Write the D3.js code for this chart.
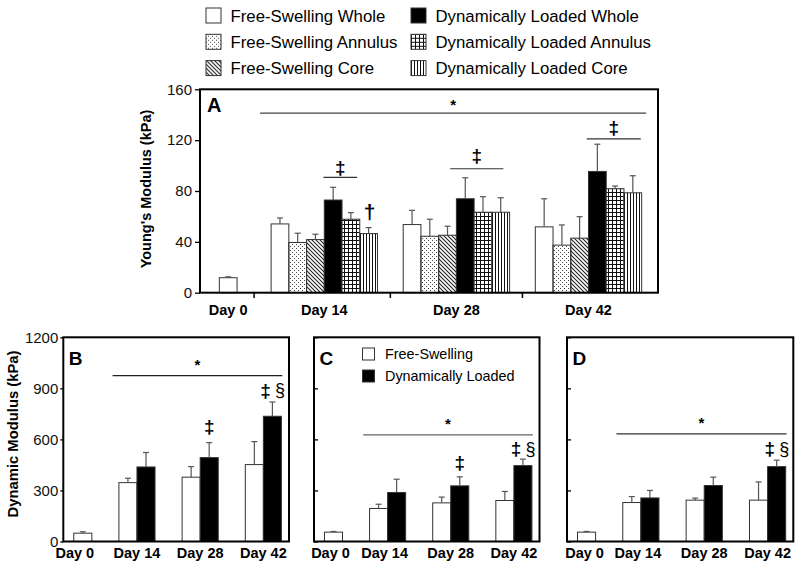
<!DOCTYPE html>
<html>
<head>
<meta charset="utf-8">
<script src="https://cdn.jsdelivr.net/npm/d3@7"></script>
<style>
  body { margin: 0; background: #fff; }
  svg { font-family: "Liberation Sans", Arial, sans-serif; }
</style>
</head>
<body>
<div id="chart"></div>
<script>
// ---- data ----
var days = ["Day 0", "Day 14", "Day 28", "Day 42"];

var youngSeries = ["Free-Swelling Whole", "Free-Swelling Annulus", "Free-Swelling Core",
    "Dynamically Loaded Whole", "Dynamically Loaded Annulus", "Dynamically Loaded Core"];
var youngMeans = [
    [11.8, 54.1, 53.6, 51.8],
    [null, 39.5, 44.4, 37.4],
    [null, 41.8, 45.2, 42.9],
    [null, 72.9, 73.9, 95.4],
    [null, 57.8, 63.3, 81.8],
    [null, 46.5, 63.3, 78.6]
];
var youngSD = [
    [0.7, 4.7, 11.2, 22.1],
    [null, 7.3, 13.4, 15.9],
    [null, 4.2, 7.1, 16.9],
    [null, 10.0, 16.5, 21.4],
    [null, 5.2, 12.2, 2.1],
    [null, 4.7, 11.4, 13.4]
];
var youngTicks = [0, 40, 80, 120, 160];

var dynSeries = ["Free-Swelling", "Dynamically Loaded"];
var dynMeansB = [[49, 346, 378, 452], [null, 438, 493, 736]];
var dynSDB = [[8, 26, 62, 135], [null, 85, 88, 84]];
var dynMeansC = [[55, 194, 227, 241], [null, 288, 327, 446]];
var dynSDC = [[4, 25, 34, 53], [null, 78, 53, 38]];
var dynMeansD = [[55, 229, 243, 243], [null, 256, 329, 440]];
var dynSDD = [[4, 35, 12, 107], [null, 44, 49, 38]];
var dynTicks = [0, 300, 600, 900, 1200];

// significance marks: bar offsets inside a day group, value for the line / symbol
var sigA = [
    { day: "Day 14", from: 2.95, to: 4.85, line: 90.7, mark: "\u2021", at: 99 },
    { day: "Day 28", from: 2.65, to: 5.65, line: 97.5, mark: "\u2021", at: 108 },
    { day: "Day 42", from: 2.9, to: 5.95, line: 121, mark: "\u2021", at: 130 }
];
var starA = 141.3;
var starB = 975, starC = 627, starD = 632;

// ---- layout ----
var width = 800, height = 568;
var svg = d3.select("#chart").append("svg")
    .attr("width", width)
    .attr("height", height);

var defs = svg.append("defs");

var dots = defs.append("pattern").attr("id", "dots")
    .attr("patternUnits", "userSpaceOnUse").attr("width", 4).attr("height", 4);
dots.append("rect").attr("x", 0).attr("y", 0).attr("width", 1).attr("height", 1).attr("fill", "#444");
dots.append("rect").attr("x", 2).attr("y", 2).attr("width", 1).attr("height", 1).attr("fill", "#444");

var hatch = defs.append("pattern").attr("id", "hatch")
    .attr("patternUnits", "userSpaceOnUse").attr("width", 4).attr("height", 4);
hatch.append("path").attr("d", "M-1,-1L5,5M-1,3L1,5M3,-1L5,1")
    .attr("stroke", "#222").attr("stroke-width", 1.1);

var grid = defs.append("pattern").attr("id", "grid")
    .attr("patternUnits", "userSpaceOnUse").attr("width", 4).attr("height", 4);
grid.append("rect").attr("width", 4).attr("height", 4).attr("fill", "#fff");
grid.append("path").attr("d", "M0.5,0V4M0,0.5H4")
    .attr("stroke", "#111").attr("stroke-width", 1);

var vert = defs.append("pattern").attr("id", "vert")
    .attr("patternUnits", "userSpaceOnUse").attr("width", 3).attr("height", 3);
vert.append("rect").attr("width", 3).attr("height", 3).attr("fill", "#fff");
vert.append("path").attr("d", "M0.5,0V3").attr("stroke", "#111").attr("stroke-width", 1);

var youngFills = ["#fff", "url(#dots)", "url(#hatch)", "#000", "url(#grid)", "url(#vert)"];
var dynFills = ["#fff", "#000"];

// slot layout: each group is a number of bar widths, separated by gaps (in bar widths)
function slotLayout(counts, leftPad, gaps, rightPad) {
    var starts = [], pos = leftPad;
    counts.forEach(function(c, i) {
        starts.push(pos);
        pos += c + (i < gaps.length ? gaps[i] : rightPad);
    });
    return { starts: starts, total: pos };
}

function drawPanel(p) {
    var g = svg.append("g");
    var lay = slotLayout(p.counts, p.leftPad, p.gaps, p.rightPad);
    var x = d3.scaleLinear().domain([0, lay.total]).range([p.x0, p.x1]);
    var y = d3.scaleLinear().domain([0, p.max]).range([p.y1, p.y0]);
    var dayIndex = function(d) { return days.indexOf(d); };

    var bars = [];
    p.means.forEach(function(row, s) {
        row.forEach(function(v, di) {
            if (v == null) return;
            var slot = lay.starts[di] + (di === 0 ? 0 : s);
            bars.push({ s: s, slot: slot, v: v, sd: p.sds[s][di] });
        });
    });

    g.selectAll(".bar").data(bars).enter().append("rect")
        .attr("class", "bar")
        .attr("x", function(d) { return x(d.slot); })
        .attr("width", function(d) { return x(d.slot + 1) - x(d.slot); })
        .attr("y", function(d) { return y(d.v); })
        .attr("height", function(d) { return y(0) - y(d.v); })
        .attr("fill", function(d) { return p.fills[d.s]; })
        .attr("stroke", "#333")
        .attr("stroke-width", 1);

    var err = g.selectAll(".err").data(bars).enter().append("g").attr("class", "err")
        .attr("stroke", "#555").attr("stroke-width", 1.2);
    err.append("line")
        .attr("x1", function(d) { return x(d.slot + 0.5); })
        .attr("x2", function(d) { return x(d.slot + 0.5); })
        .attr("y1", function(d) { return y(d.v); })
        .attr("y2", function(d) { return y(d.v + d.sd); });
    err.append("line")
        .attr("x1", function(d) { return x(d.slot + 0.5) - 3; })
        .attr("x2", function(d) { return x(d.slot + 0.5) + 3; })
        .attr("y1", function(d) { return y(d.v + d.sd); })
        .attr("y2", function(d) { return y(d.v + d.sd); });

    // y axis
    var yAxis = d3.axisLeft(y).tickValues(p.ticks).tickSize(p.tickSize).tickPadding(p.tickPad)
        .tickFormat(p.labels ? d3.format("d") : "");
    var ya = g.append("g").attr("transform", "translate(" + p.x0 + ",0)").call(yAxis);
    ya.select(".domain").remove();
    ya.selectAll("line").attr("stroke", "#000").attr("stroke-width", 1.3);
    ya.selectAll("text").attr("font-size", "15px").attr("fill", "#111")
        .attr("font-family", "'Liberation Sans', Arial, sans-serif");

    // x labels
    g.selectAll(".xl").data(days).enter().append("text")
        .attr("class", "xl")
        .attr("x", function(d) {
            var i = dayIndex(d);
            return x(lay.starts[i] + p.counts[i] / 2) + (p.labelShift ? p.labelShift[i] : 0);
        })
        .attr("y", p.labelY)
        .attr("text-anchor", "middle")
        .attr("font-weight", "bold")
        .attr("font-size", "14.5px")
        .text(function(d) { return d; });

    // frame
    g.append("rect")
        .attr("x", p.x0).attr("y", p.y0)
        .attr("width", p.x1 - p.x0).attr("height", p.y1 - p.y0)
        .attr("fill", "none").attr("stroke", "#000").attr("stroke-width", 2);

    g.append("text")
        .attr("x", p.x0 + p.letterDx).attr("y", p.y0 + p.letterDy)
        .attr("font-weight", "bold").attr("font-size", p.letterSize)
        .text(p.letter);

    return { g: g, x: x, y: y, lay: lay };
}

function sigLine(g, x0, x1, yy, color) {
    g.append("line").attr("x1", x0).attr("x2", x1).attr("y1", yy).attr("y2", yy)
        .attr("stroke", color || "#333").attr("stroke-width", 1.2);
}
function mark(g, xx, yy, txt, size, bold) {
    g.append("text").attr("x", xx).attr("y", yy).attr("dy", "0.36em")
        .attr("text-anchor", "middle").attr("font-size", size || "17px")
        .attr("font-weight", bold ? "bold" : "normal")
        .attr("fill", "#000")
        .text(txt);
}

// ---- Panel A ----
var A = drawPanel({
    x0: 200, x1: 658, y0: 89.3, y1: 292.7, max: 160, ticks: youngTicks,
    counts: [1, 6, 6, 6], leftPad: 1.09, gaps: [1.92, 1.45, 1.45], rightPad: 0.92,
    means: youngMeans, sds: youngSD, fills: youngFills,
    tickSize: 5, tickPad: 3, labels: true, labelY: 315,
    letter: "A", letterDx: 7, letterDy: 22.5, letterSize: "20px"
});
// x separator ticks in A
var sepA = [0, 1, 2].map(function(i) {
    var end = A.lay.starts[i] + (i === 0 ? 1 : 6);
    return (end + A.lay.starts[i + 1]) / 2;
});
A.g.selectAll(".sep").data(sepA).enter().append("line")
    .attr("x1", function(d) { return A.x(d); }).attr("x2", function(d) { return A.x(d); })
    .attr("y1", 292.7).attr("y2", 298).attr("stroke", "#000").attr("stroke-width", 1.5);

(function() {
    var s14 = A.lay.starts[1], e42 = A.lay.starts[3] + 6;
    sigLine(A.g, A.x(s14 - 0.62), A.x(e42 + 0.25), A.y(starA), "#444");
    mark(A.g, (A.x(s14 - 0.62) + A.x(e42 + 0.25)) / 2, A.y(starA) - 8, "*", "15px", true);
    sigA.forEach(function(d) {
        var st = A.lay.starts[days.indexOf(d.day)];
        sigLine(A.g, A.x(st + d.from), A.x(st + d.to), A.y(d.line), "#333");
        mark(A.g, A.x(st + (d.from + d.to) / 2), A.y(d.at), d.mark, "19px", true);
    });
    mark(A.g, A.x(A.lay.starts[1] + 5.55), A.y(63.7), "\u2020", "21px", true);
})();

svg.append("text")
    .attr("transform", "translate(146,189) rotate(-90)")
    .attr("text-anchor", "middle").attr("dy", "0.35em")
    .attr("font-weight", "bold").attr("font-size", "14.5px")
    .text("Young's Modulus (kPa)");

// ---- Panels B, C, D ----
var small = { counts: [1, 2, 2, 2], leftPad: 0.58, gaps: [1.5, 1.5, 1.5], rightPad: 0.42,
    y0: 337.3, y1: 541.5, max: 1200, ticks: dynTicks, fills: dynFills, labelY: 558,
    letterDy: 28, letterDx: 5.5, letterSize: "19px" };

function dynPanel(extra) {
    return drawPanel(Object.assign({}, small, extra));
}

var B = dynPanel({ x0: 63.3, x1: 289, means: dynMeansB, sds: dynSDB,
    tickSize: 3, tickPad: 2, labels: true, letter: "B", labelShift: [-8, 0, 0, 0] });
var C = dynPanel({ x0: 314, x1: 539.5, means: dynMeansC, sds: dynSDC,
    tickSize: -4, tickPad: 2, labels: false, letter: "C", labelShift: [-3, -3, 0, 0] });
var D = dynPanel({ x0: 567, x1: 793.3, means: dynMeansD, sds: dynSDD,
    tickSize: -4, tickPad: 2, labels: false, letter: "D", labelShift: [-2, -3, 0, 0] });

function dynMarks(P, star, color, d28, d42) {
    var s14 = P.lay.starts[1], e42 = P.lay.starts[3] + 2;
    var a = P.x(s14 - 0.35), b = P.x(e42 + 0.05);
    sigLine(P.g, a, b, P.y(star), color);
    mark(P.g, (a + b) / 2, P.y(star) - 11, "*", "15px", true);
    if (d28 != null) mark(P.g, P.x(P.lay.starts[2] + 1.5), P.y(d28), "\u2021", "19px", true);
    if (d42 != null) {
        var cx = P.x(P.lay.starts[3] + 1.5);
        mark(P.g, cx - 6.8, P.y(d42), "\u2021", "19px", true);
        mark(P.g, cx + 7.5, P.y(d42), "\u00a7", "18px", false);
    }
}
dynMarks(B, starB, "#222", 675, 891);
dynMarks(C, starC, "#666", 464, 548);
dynMarks(D, starD, "#333", null, 548);

svg.append("text")
    .attr("transform", "translate(13,434) rotate(-90)")
    .attr("text-anchor", "middle").attr("dy", "0.35em")
    .attr("font-weight", "bold").attr("font-size", "14.8px")
    .text("Dynamic Modulus (kPa)");

// legend in C
var legC = svg.append("g").selectAll("g").data(dynSeries).enter().append("g")
    .attr("transform", function(d, i) { return "translate(362.5," + (354 + i * 22) + ")"; });
legC.append("rect").attr("x", 0).attr("y", -6).attr("width", 12).attr("height", 12)
    .attr("fill", function(d, i) { return dynFills[i]; })
    .attr("stroke", "#333").attr("stroke-width", 1);
legC.append("text").attr("x", 22.5).attr("dy", "0.36em")
    .attr("font-size", "14.4px").text(function(d) { return d; });

// top legend
var leg = svg.append("g").selectAll("g").data(youngSeries).enter().append("g")
    .attr("transform", function(d, i) {
        var col = i < 3 ? 0 : 1, row = i % 3;
        return "translate(" + (col ? 411 : 206) + "," + (15.5 + row * 26.3) + ")";
    });
leg.append("rect").attr("x", 0).attr("y", -7.5).attr("width", 15).attr("height", 15)
    .attr("fill", function(d, i) { return youngFills[i]; })
    .attr("stroke", "#333").attr("stroke-width", 1);
leg.append("text").attr("x", 24.5).attr("dy", "0.36em")
    .attr("font-size", "16.8px").text(function(d) { return d; });
</script>
</body>
</html>
